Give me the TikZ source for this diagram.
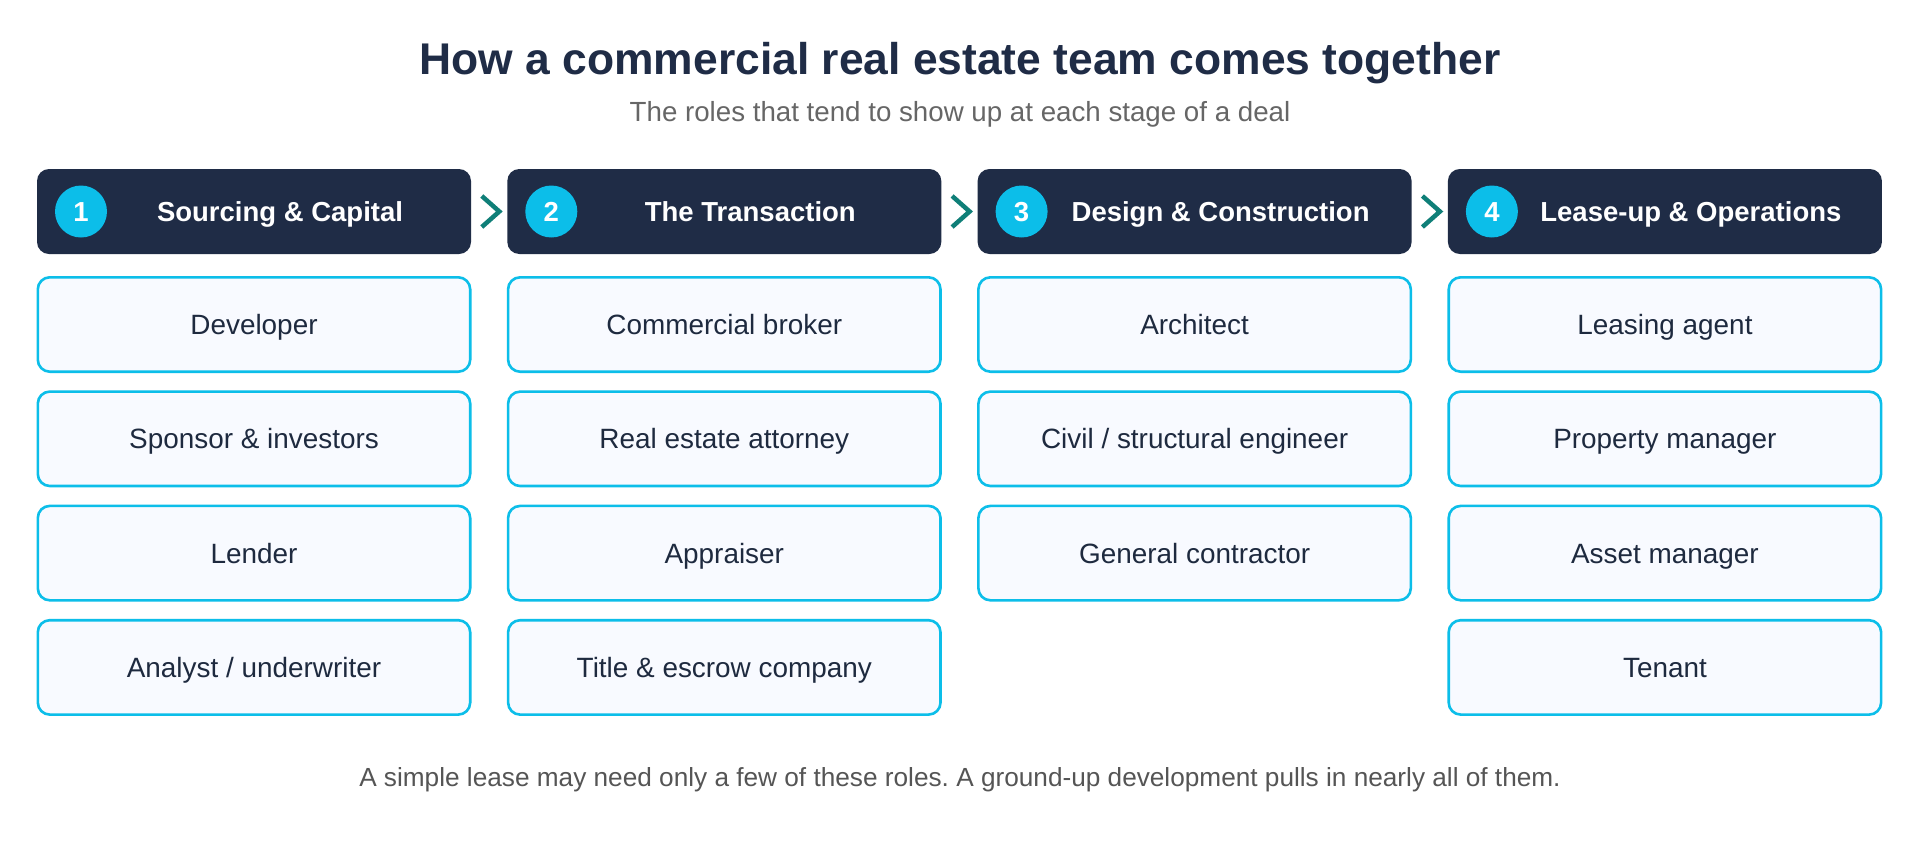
\documentclass[tikz,border=0pt]{standalone}
\usepackage{fontspec}
\setmainfont{Liberation Sans}
\usetikzlibrary{positioning}

\definecolor{navy}{HTML}{1F2C46}
\definecolor{skyc}{HTML}{0CBEE9}
\definecolor{rolefill}{HTML}{F8FAFF}
\definecolor{roletext}{HTML}{1E2A3F}
\definecolor{tealc}{HTML}{0F7F78}
\definecolor{subgrey}{HTML}{666666}
\definecolor{footgrey}{HTML}{555555}

\begin{document}
\frenchspacing
\begin{tikzpicture}[x=1pt,y=-1pt,node distance=19.9pt,
    stage/.style={rounded corners=12pt,fill=navy,minimum width=434pt,minimum height=85pt,inner sep=0pt,outer sep=0pt},
    num/.style={circle,fill=skyc,minimum size=52pt,inner sep=0pt,text=white,text height=19.7pt,text depth=0pt,font=\fontsize{27.5}{30}\selectfont\bfseries},
    stagetext/.style={inner sep=0pt,text=white,text height=19.7pt,text depth=0pt,font=\fontsize{27.5}{30}\selectfont\bfseries},
    role/.style={rounded corners=12pt,draw=skyc,line width=2.6pt,fill=rolefill,minimum width=432.4pt,minimum height=94.4pt,inner sep=0pt,outer sep=0pt,text=roletext,text height=20pt,text depth=0pt,font=\fontsize{27.9}{30}\selectfont},
    chev/.style={draw=tealc,line width=4.5pt}]

    \useasboundingbox[fill=white] (0,0) rectangle (1920,849);

    % heading
    \node[anchor=base,text=navy,font=\fontsize{44.4}{50}\selectfont\bfseries] (title) at (960,74) {How a commercial real estate team comes together};
    \node[anchor=base,text=subgrey,font=\fontsize{27.7}{30}\selectfont] (sub) at (960,121) {The roles that tend to show up at each stage of a deal};

    % stage headers
    \node[stage] (h1) at (254,211.5) {};
    \node[stage] (h2) [right=36.3pt of h1] {};
    \node[stage] (h3) [right=36.3pt of h2] {};
    \node[stage] (h4) [right=36.3pt of h3] {};

    \node[num] (n1) at ([xshift=44pt]h1.west) {1};
    \node[num] (n2) at ([xshift=44pt]h2.west) {2};
    \node[num] (n3) at ([xshift=44pt]h3.west) {3};
    \node[num] (n4) at ([xshift=44pt]h4.west) {4};

    \node[stagetext] (t1) at ([xshift=26pt]h1.center) {Sourcing \& Capital};
    \node[stagetext] (t2) at ([xshift=26pt]h2.center) {The Transaction};
    \node[stagetext] (t3) at ([xshift=26pt]h3.center) {Design \& Construction};
    \node[stagetext] (t4) at ([xshift=26pt]h4.center) {Lease-up \& Operations};

    \draw[chev] ([xshift=10.8pt,yshift=15.5pt]h1.east) -- ([xshift=28.3pt]h1.east) -- ([xshift=10.8pt,yshift=-15.5pt]h1.east);
    \draw[chev] ([xshift=10.8pt,yshift=15.5pt]h2.east) -- ([xshift=28.3pt]h2.east) -- ([xshift=10.8pt,yshift=-15.5pt]h2.east);
    \draw[chev] ([xshift=10.8pt,yshift=15.5pt]h3.east) -- ([xshift=28.3pt]h3.east) -- ([xshift=10.8pt,yshift=-15.5pt]h3.east);

    % roles
    \node[role] (r11) [below=23.3pt of h1] {Developer};
    \node[role] (r12) [below=of r11] {Sponsor \& investors};
    \node[role] (r13) [below=of r12] {Lender};
    \node[role] (r14) [below=of r13] {Analyst / underwriter};

    \node[role] (r21) [below=23.3pt of h2] {Commercial broker};
    \node[role] (r22) [below=of r21] {Real estate attorney};
    \node[role] (r23) [below=of r22] {Appraiser};
    \node[role] (r24) [below=of r23] {Title \& escrow company};

    \node[role] (r31) [below=23.3pt of h3] {Architect};
    \node[role] (r32) [below=of r31] {Civil / structural engineer};
    \node[role] (r33) [below=of r32] {General contractor};

    \node[role] (r41) [below=23.3pt of h4] {Leasing agent};
    \node[role] (r42) [below=of r41] {Property manager};
    \node[role] (r43) [below=of r42] {Asset manager};
    \node[role] (r44) [below=of r43] {Tenant};

    % footnote
    \node[anchor=base,text=footgrey,font=\fontsize{26.2}{28}\selectfont] (foot) at (960,786) {A simple lease may need only a few of these roles. A ground-up development pulls in nearly all of them.};

\end{tikzpicture}
\end{document}
